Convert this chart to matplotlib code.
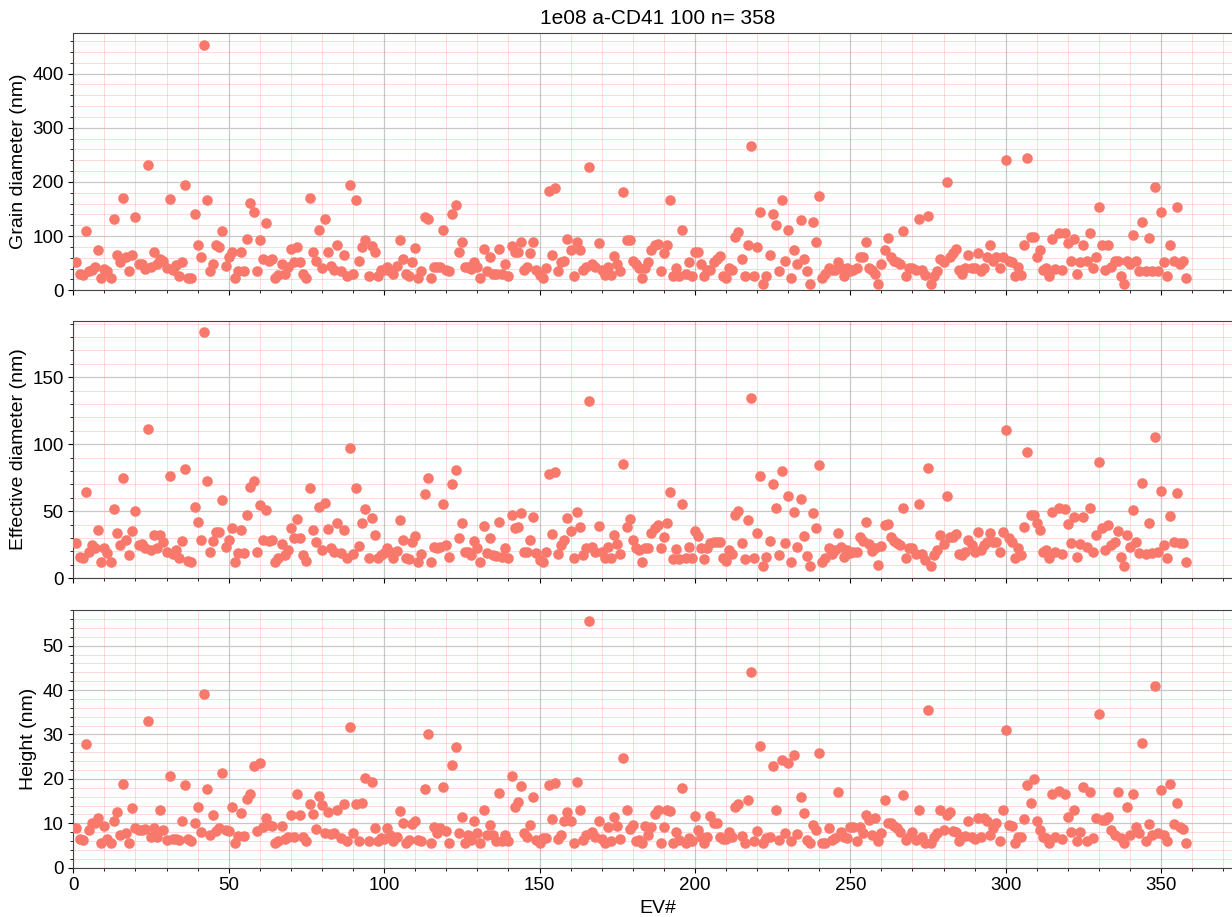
import matplotlib as mpl
mpl.use('agg')
import numpy as np
import matplotlib.pyplot as plt
from matplotlib.ticker import AutoMinorLocator, MultipleLocator

title = "1e08 a-CD41 100 n= 358"

# grain diameter (nm), EV 1..358
grain = [52,31,28,109,36,38,43,74,22,39,
         36,22,132,65,52,170,62,36,65,135,
         49,48,40,232,43,71,49,58,55,42,
         168,37,46,26,52,195,22,22,141,83,
         62,453,166,36,49,84,80,109,44,62,
         71,22,36,71,36,95,161,145,36,92,
         57,124,55,57,22,28,49,31,43,77,
         52,80,52,31,22,170,71,55,111,42,
         131,70,44,37,84,36,65,26,194,31,
         167,55,
         80,92,26,81,71,26,37,37,43,36,31,45,
         92,57,31,26,52,78,22,36,135,131,
         22,43,43,43,111,37,36,140,157,71,
         89,43,43,40,52,43,22,77,36,62,
         31,31,77,31,49,26,81,71,71,89,
         37,43,69,89,37,28,22,42,183,65,
         188,36,52,55,95,74,26,89,74,37,
         43,228,49,43,87,37,28,43,28,63,
         49,36,182,92,92,55,49,42,22,42,
         52,74,83,86,
         36,68,
         83,167,26,42,26,111,31,52,26,71,
         71,49,26,37,37,52,57,63,26,22,
         42,37,98,108,58,26,83,266,26,80,
         145,12,26,65,140,120,36,166,55,111,
         22,74,49,130,57,36,12,126,89,174,
         22,31,42,37,37,52,42,26,42,36,
         37,42,62,62,89,42,38,31,12,49,
         74,97,62,55,52,49,109,26,42,42,
         37,132,37,28,138,12,26,36,58,52,
         199,
         62,68,77,37,31,42,65,42,42,69,
         36,42,62,84,55,62,42,62,240,55,
         52,26,43,28,83,244,98,98,62,75,
         37,42,26,95,40,106,37,106,87,55,
         95,31,52,83,55,105,42,62,154,83,
         37,83,43,55,55,26,12,55,49,102,
         55,36,126,36,97,36,190,36,145,52,
         26,83,55,153,49,54,22]

# effective diameter (nm)
effective = [26.6,16.2,14.9,64.7,19.9,24.9,22.4,36,12.4,22.9,
             18.7,12.4,51.5,34,24.9,74.6,28.6,17.4,35.3,50.3,
             24.9,25.4,22.4,111.2,21.1,32.3,22.4,32.3,27.4,19.4,
             76.6,17.9,21.1,14.9,27.9,81.4,12.9,12.4,53.5,42.3,
             28.6,183.4,72.2,19.4,27.9,34.8,34.8,58.5,23.6,28.6,
             37.8,12.4,18.7,36,18.7,47.3,68.4,72.2,19.9,54.7,
             28.6,51,27.9,28.6,12.4,14.9,25.4,17.4,21.1,37.8,
             30.4,44.3,29.9,17.4,12.9,67.7,36,27.4,53.5,21.1,
             56.5,36.6,22.9,19.4,41,18.7,36,14.9,97.5,17.9,
             67.2,24.1,
             41,51.7,14.9,45.3,32.3,14.9,17.4,18.7,22.4,19.4,15,20,
             43.5,28.6,15.4,14.4,27.4,31.8,12.4,17.9,62.9,75.1,
             12.4,23.6,22.4,23.6,55.7,24.9,16.2,70.2,80.6,30.4,
             41,19.4,19.9,17.4,27.9,22.4,12.4,39.1,18.7,30.4,
             17.4,16.9,42.3,16.2,22.4,14.9,47.3,37.3,38.6,48.8,
             19.4,19.9,28.6,45.8,18.7,13.7,12.4,19.9,77.9,32.8,
             79.6,17.9,24.9,28.6,44.8,35.3,14.9,49.8,38.1,17.4,
             22.4,132.4,23.6,19.9,39.1,19.9,14.9,23.6,15.4,32.3,
             25.4,17.9,85.1,38.6,44.3,28.6,22.4,21.1,12.4,22.4,
             22.9,33.6,37.3,39.8,
             22.4,31.1,
             41,64.7,14.2,21.6,14.2,55.2,14.9,23.6,14.9,35.3,
             31.8,22.9,14.2,22.4,26.1,27.4,26.9,27.4,15.4,12.9,
             21.1,17.9,47.3,50.3,26.1,14.2,43.5,134.8,14.9,33.6,
             76.6,9.5,16.2,27.9,70.2,52.2,17.4,80.1,26.1,61,
             12.4,49.3,23.6,59.2,31.6,16.9,9.5,48.5,37.3,84.6,
             12.4,14.9,22.9,17.9,21.1,33.6,23.1,16.2,21.1,18.7,
             19.4,19.9,31.1,27.9,41.8,25.4,20.4,22.4,10,24.1,
             39.8,40.6,31.1,28.1,26.1,24.9,52.7,14.9,22.9,22.4,
             17.9,55.2,18.2,13.7,82.1,9.5,17.4,21.1,32.3,25.4,
             61.5,
             31.1,31.1,32.8,17.9,17.4,19.4,28.6,24.9,19.4,34.3,
             21.1,24.9,27.4,33.6,27.4,27.4,19.9,34.3,110.7,29.9,
             27.4,14.9,22.4,17.4,38.6,94.5,47.3,47.3,41,36,
             19.4,21.1,14.9,49.3,19.9,52.7,17.9,51.8,40.3,26.6,
             46,16.2,25.4,46,23.6,52.7,19.9,32.3,87.1,37.8,
             21.1,39.8,24.9,27.4,35.3,15.7,9.5,32.3,23.6,51,
             27.4,18.7,71.4,17.9,41,18.7,105.2,19.4,65.2,24.9,
             14.9,46.8,27.4,63.4,26.1,26.1,12.4]

# height (nm)
height = [9.0,6.4,6.2,27.8,8.5,10.1,10.0,11.1,5.6,9.4,
          6.4,5.5,10.4,12.5,7.4,18.8,7.9,5.5,13.4,9.0,
          8.5,8.5,8.6,33.0,6.8,8.9,6.8,13.0,8.5,6.2,
          20.7,6.4,6.4,6.2,10.5,18.6,6.4,5.9,10.1,13.7,
          8.1,39.2,17.7,7.4,11.9,8.3,8.9,21.4,8.5,8.3,
          13.7,5.5,7.1,12.4,7.1,15.4,16.5,23.0,8.3,23.5,
          9.2,11.1,9.6,9.4,5.6,6.0,9.4,6.4,6.8,11.9,
          6.8,16.5,11.9,7.0,6.0,14.3,12.2,8.6,16.2,14.1,
          7.9,12.6,7.5,7.9,13.1,6.6,14.3,6.1,31.7,7.7,
          14.3,6.1,
          14.5,20.1,5.9,19.4,8.9,5.9,6.6,6.4,8.9,7.4,6.0,7.0,
          12.8,10.0,5.6,6.2,9.8,10.4,6.2,6.1,17.7,30.1,
          5.6,9.2,7.7,8.9,18.2,8.3,5.5,23.1,27.1,7.7,
          11.5,5.5,7.4,6.2,10.4,7.7,5.6,13.1,7.4,9.6,
          7.4,6.1,16.9,6.1,7.4,6.1,20.6,13.6,14.9,18.5,
          7.7,7.0,9.6,16.0,6.2,5.6,6.6,6.6,18.6,11.0,
          19.0,6.4,7.4,10.6,12.6,10.6,5.6,19.4,13.1,6.2,
          7.4,55.5,8.1,7.0,10.4,6.4,5.5,9.2,5.9,11.3,
          9.4,6.4,24.6,13.1,8.6,9.6,5.9,6.2,5.6,9.4,
          7.4,9.2,12.2,13.0,
          5.6,9.2,
          13.1,12.8,5.6,8.1,6.2,17.9,5.5,6.6,6.1,11.6,
          8.5,6.8,5.6,7.0,11.6,10.1,10.0,7.0,6.4,6.4,
          8.0,6.8,13.6,14.3,7.1,5.5,15.2,44.1,5.9,8.3,
          27.5,5.5,6.6,6.8,22.9,13.1,6.2,24.2,7.7,23.6,
          5.9,25.4,7.5,16.0,12.4,6.2,5.6,9.6,8.5,25.9,
          5.5,5.6,8.9,6.2,6.6,17.0,8.1,7.0,6.6,9.1,
          9.2,5.9,9.2,7.7,11.9,10.7,7.4,11.1,6.1,7.7,
          15.2,10.1,10.0,9.4,8.9,8.1,16.4,6.2,6.8,8.1,
          6.2,13.0,7.0,5.6,35.6,5.6,7.0,7.9,13.0,8.5,
          11.9,
          12.5,8.3,8.1,6.1,6.8,7.1,10.6,6.8,6.4,11.1,
          6.8,11.1,10.4,7.4,8.9,10.1,5.9,13.1,31.0,9.6,
          9.4,5.5,7.0,6.8,11.0,18.6,14.5,19.9,10.5,8.5,
          7.0,6.6,5.6,16.6,6.8,17.3,6.4,16.5,11.5,8.1,
          13.1,6.1,8.1,18.1,6.1,17.1,6.6,11.1,34.6,10.7,
          10.7,11.5,8.5,7.4,17.1,6.6,5.6,13.7,7.4,16.7,
          9.2,7.7,28.1,6.1,9.8,7.4,41.0,7.7,17.5,7.4,
          5.9,18.8,9.8,14.5,9.2,8.6,5.5]

ev = np.arange(1, len(grain) + 1)
series = [(grain, "Grain diameter (nm)", 100),
          (effective, "Effective diameter (nm)", 50),
          (height, "Height (nm)", 10)]

plt.rcParams['font.family'] = ['Liberation Sans', 'DejaVu Sans']

fig = plt.figure(figsize=(12.32, 9.17), dpi=100)
left, width = 0.0595, 0.9482
bottoms = [0.6834, 0.3694, 0.0538]
h = 0.2808
axes = []
for i, (vals, lab, step) in enumerate(series):
    ax = fig.add_axes([left, bottoms[i], width, h], sharex=axes[0] if axes else None)
    ax.scatter(ev, vals, s=58, color='#f8796b', zorder=3, linewidths=0)
    ax.set_ylim(bottom=0)
    ax.set_xlim(left=0)
    ax.yaxis.set_major_locator(MultipleLocator(step))
    ax.xaxis.set_major_locator(MultipleLocator(50))
    ax.xaxis.set_minor_locator(MultipleLocator(10))
    ax.yaxis.set_minor_locator(AutoMinorLocator(5))
    ax.grid(which='major', color='#c8c8c8', linewidth=0.9)
    ax.grid(which='minor', color='red', alpha=0.15, linewidth=0.7)
    ax.set_axisbelow(True)
    ax.set_ylabel(lab, fontsize=14)
    ax.tick_params(labelsize=13.5)
    for sp in ax.spines.values():
        sp.set_color('#444444')
    if i < 2:
        ax.tick_params(labelbottom=False)
    axes.append(ax)

axes[0].set_title(title, fontsize=15)
axes[2].set_xlabel("EV#", fontsize=14)

plt.savefig("out.png", dpi=100)
